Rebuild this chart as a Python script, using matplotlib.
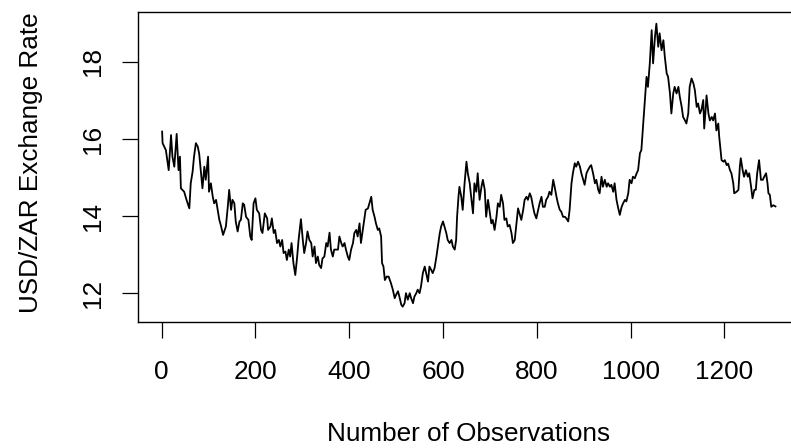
import numpy as np
from matplotlib import pyplot as plt

# observation number and USD/ZAR rate
obs = [1, 2, 9, 15, 20, 23, 27, 32, 36, 39, 41, 48, 53, 59, 62, 66, 69, 73, 77, 80,
       84, 87, 91, 94, 99, 101, 105, 109, 112, 116, 119, 123, 126, 131, 137, 141, 144, 148, 151, 155,
       158, 162, 166, 169, 173, 176, 180, 185, 189, 192, 196, 200, 203, 208, 212, 215, 220, 225, 227, 232,
       235, 239, 242, 246, 250, 253, 257, 260, 264, 267, 271, 274, 277, 281, 285, 289, 292, 297, 301, 304,
       308, 311, 315, 319, 322, 326, 329, 333, 336, 340, 343, 347, 351, 354, 358, 361, 365, 368, 376, 379,
       383, 386, 390, 393, 397, 400, 404, 408, 411, 415, 418, 422, 425, 429, 435, 440, 443, 447, 450, 454,
       457, 461, 464, 468, 470, 473, 476, 480, 484, 489, 493, 497, 500, 504, 507, 511, 514, 518, 521, 525,
       529, 532, 536, 539, 543, 546, 550, 553, 557, 561, 564, 568, 571, 575, 578, 582, 586, 589, 593, 596,
       600, 603, 607, 610, 614, 618, 621, 625, 628, 630, 633, 635, 639, 642, 646, 650, 653, 657, 660, 664,
       667, 671, 674, 678, 682, 685, 689, 692, 696, 699, 703, 706, 710, 714, 717, 721, 724, 728, 731, 735,
       738, 742, 746, 749, 753, 756, 760, 763, 767, 771, 774, 778, 781, 785, 788, 792, 795, 799, 803, 806,
       810, 813, 817, 820, 824, 827, 831, 835, 838, 842, 845, 849, 852, 856, 860, 863, 867, 870, 874, 877,
       881, 884, 888, 892, 895, 899, 902, 906, 909, 913, 916, 920, 924, 927, 931, 934, 938, 941, 945, 949,
       952, 956, 959, 963, 966, 970, 973, 977, 981, 984, 988, 991, 995, 998, 1002, 1005, 1009, 1013, 1016, 1020,
       1023, 1027, 1030, 1034, 1037, 1041, 1045, 1048, 1052, 1055, 1059, 1062, 1066, 1070, 1073, 1077, 1080, 1084, 1087, 1091,
       1094, 1098, 1102, 1105, 1109, 1112, 1116, 1119, 1123, 1126, 1130, 1134, 1137, 1141, 1144, 1148, 1151, 1155, 1157, 1160,
       1162, 1166, 1169, 1173, 1176, 1180, 1183, 1187, 1189, 1192, 1194, 1198, 1201, 1205, 1208, 1212, 1215, 1219, 1221, 1226,
       1230, 1233, 1235, 1239, 1242, 1246, 1250, 1253, 1257, 1260, 1264, 1267, 1270, 1274, 1278, 1282, 1285, 1289, 1292, 1294,
       1297, 1300, 1304, 1309]
rate = [16.19, 15.89, 15.71, 15.19, 16.10, 15.54, 15.28, 16.13, 15.19, 15.54, 14.72, 14.63, 14.42, 14.20, 14.85, 15.15, 15.54, 15.89, 15.80, 15.62,
        15.10, 14.72, 15.28, 14.94, 15.54, 14.63, 14.85, 14.50, 14.33, 14.42, 14.20, 13.90, 13.77, 13.51, 13.73, 14.24, 14.68, 14.16, 14.42, 14.33,
        13.86, 13.60, 13.86, 13.90, 14.33, 14.29, 13.98, 13.90, 13.47, 13.38, 14.33, 14.46, 14.16, 14.07, 13.64, 13.56, 14.07, 13.94, 13.64, 13.73,
        13.94, 13.56, 13.64, 13.30, 13.38, 13.21, 13.38, 13.04, 13.08, 12.86, 13.13, 12.95, 13.30, 12.78, 12.47, 12.95, 13.38, 13.92, 13.38, 13.04,
        13.30, 13.60, 13.38, 13.30, 12.95, 13.21, 12.78, 12.95, 12.73, 12.65, 12.90, 12.95, 13.30, 13.21, 13.57, 13.13, 12.95, 13.13, 13.13, 13.47,
        13.30, 13.21, 13.30, 13.13, 12.95, 12.86, 13.13, 13.30, 13.56, 13.64, 13.47, 13.81, 13.30, 13.64, 14.16, 14.20, 14.33, 14.50, 14.16, 13.98,
        13.81, 13.64, 13.68, 13.47, 12.78, 12.69, 12.34, 12.43, 12.43, 12.26, 12.09, 11.87, 11.96, 12.05, 11.91, 11.70, 11.65, 11.74, 12.00, 11.83,
        12.00, 11.87, 11.74, 11.91, 12.00, 12.09, 12.00, 12.17, 12.52, 12.69, 12.52, 12.30, 12.69, 12.60, 12.52, 12.65, 12.95, 13.21, 13.55, 13.73,
        13.86, 13.73, 13.56, 13.38, 13.30, 13.38, 13.21, 13.13, 13.38, 13.98, 14.50, 14.76, 14.50, 14.16, 14.85, 15.41, 15.10, 14.85, 14.50, 14.07,
        14.85, 14.63, 15.11, 14.42, 14.76, 14.94, 14.68, 13.98, 14.42, 14.16, 13.81, 13.90, 13.64, 13.98, 14.33, 14.24, 14.55, 14.33, 13.90, 13.94,
        13.73, 13.77, 13.56, 13.30, 13.38, 13.73, 14.20, 14.07, 13.90, 14.16, 14.42, 14.50, 14.42, 14.59, 14.50, 14.24, 14.07, 13.94, 14.16, 14.33,
        14.50, 14.24, 14.24, 14.42, 14.50, 14.63, 14.55, 14.94, 14.76, 14.50, 14.33, 14.16, 14.12, 13.98, 13.98, 13.94, 13.86, 14.16, 14.85, 15.11,
        15.37, 15.28, 15.41, 15.28, 15.11, 14.94, 14.81, 15.11, 15.19, 15.28, 15.32, 15.11, 14.85, 14.94, 14.68, 14.59, 15.02, 14.76, 14.94, 14.76,
        14.85, 14.76, 14.81, 14.63, 14.85, 14.42, 14.24, 14.03, 14.24, 14.33, 14.42, 14.38, 14.59, 14.94, 14.85, 15.02, 14.98, 15.11, 15.19, 15.63,
        15.71, 16.40, 16.92, 17.61, 17.35, 17.96, 18.82, 17.96, 18.65, 18.99, 18.39, 18.74, 18.30, 18.56, 18.13, 17.70, 17.61, 17.18, 16.66, 17.18,
        17.35, 17.18, 17.35, 17.09, 16.83, 16.57, 16.48, 16.40, 16.66, 17.35, 17.57, 17.44, 17.27, 16.83, 16.92, 16.66, 16.75, 17.01, 16.27, 16.75,
        17.13, 16.66, 16.48, 16.57, 16.48, 16.66, 16.22, 16.40, 16.06, 15.71, 15.45, 15.41, 15.45, 15.32, 15.36, 15.19, 15.11, 14.85, 14.59, 14.63,
        14.68, 15.28, 15.50, 15.19, 15.02, 15.19, 15.02, 15.11, 14.76, 14.46, 14.68, 14.68, 15.11, 15.45, 14.94, 14.94, 15.02, 15.11, 14.85, 14.59,
        14.55, 14.24, 14.28, 14.25]

x_ticks = [0, 200, 400, 600, 800, 1000, 1200]
y_ticks = [12, 14, 16, 18]

plt.rcParams['font.family'] = ['Liberation Sans', 'DejaVu Sans']
FS = 18.8

W, H = 791, 448
fig = plt.figure(figsize=(W / 100, H / 100), dpi=100)
# plot region in pixels: left 137.6, right 800 (runs past the edge), top 11.7, bottom 321.7
ax = fig.add_axes([137.6 / W, (H - 321.7) / H, (800 - 137.6) / W, (321.7 - 11.7) / H])

ax.plot(obs, rate, color='black', linewidth=1.3)

ax.set_xlim(-51.3, 1361.3)
ax.set_ylim(11.26, 19.30)
ax.set_xticks(x_ticks)
ax.set_yticks(y_ticks)
ax.tick_params(length=11.3, width=0.9, labelsize=FS, color='black')
ax.tick_params(axis='x', pad=16.2)
ax.tick_params(axis='y', pad=12.4, labelrotation=90)
for lab in ax.get_yticklabels():
    lab.set_verticalalignment('center')
for s in ax.spines.values():
    s.set_linewidth(1.0)

fig.text(469 / W, 1 - 441 / H, 'Number of Observations', fontsize=FS,
         ha='center', va='baseline')
fig.text(38.5 / W, 1 - 163 / H, 'USD/ZAR Exchange Rate', fontsize=FS, rotation=90,
         rotation_mode='anchor', ha='center', va='baseline')

fig.savefig('out.png', dpi=100)
